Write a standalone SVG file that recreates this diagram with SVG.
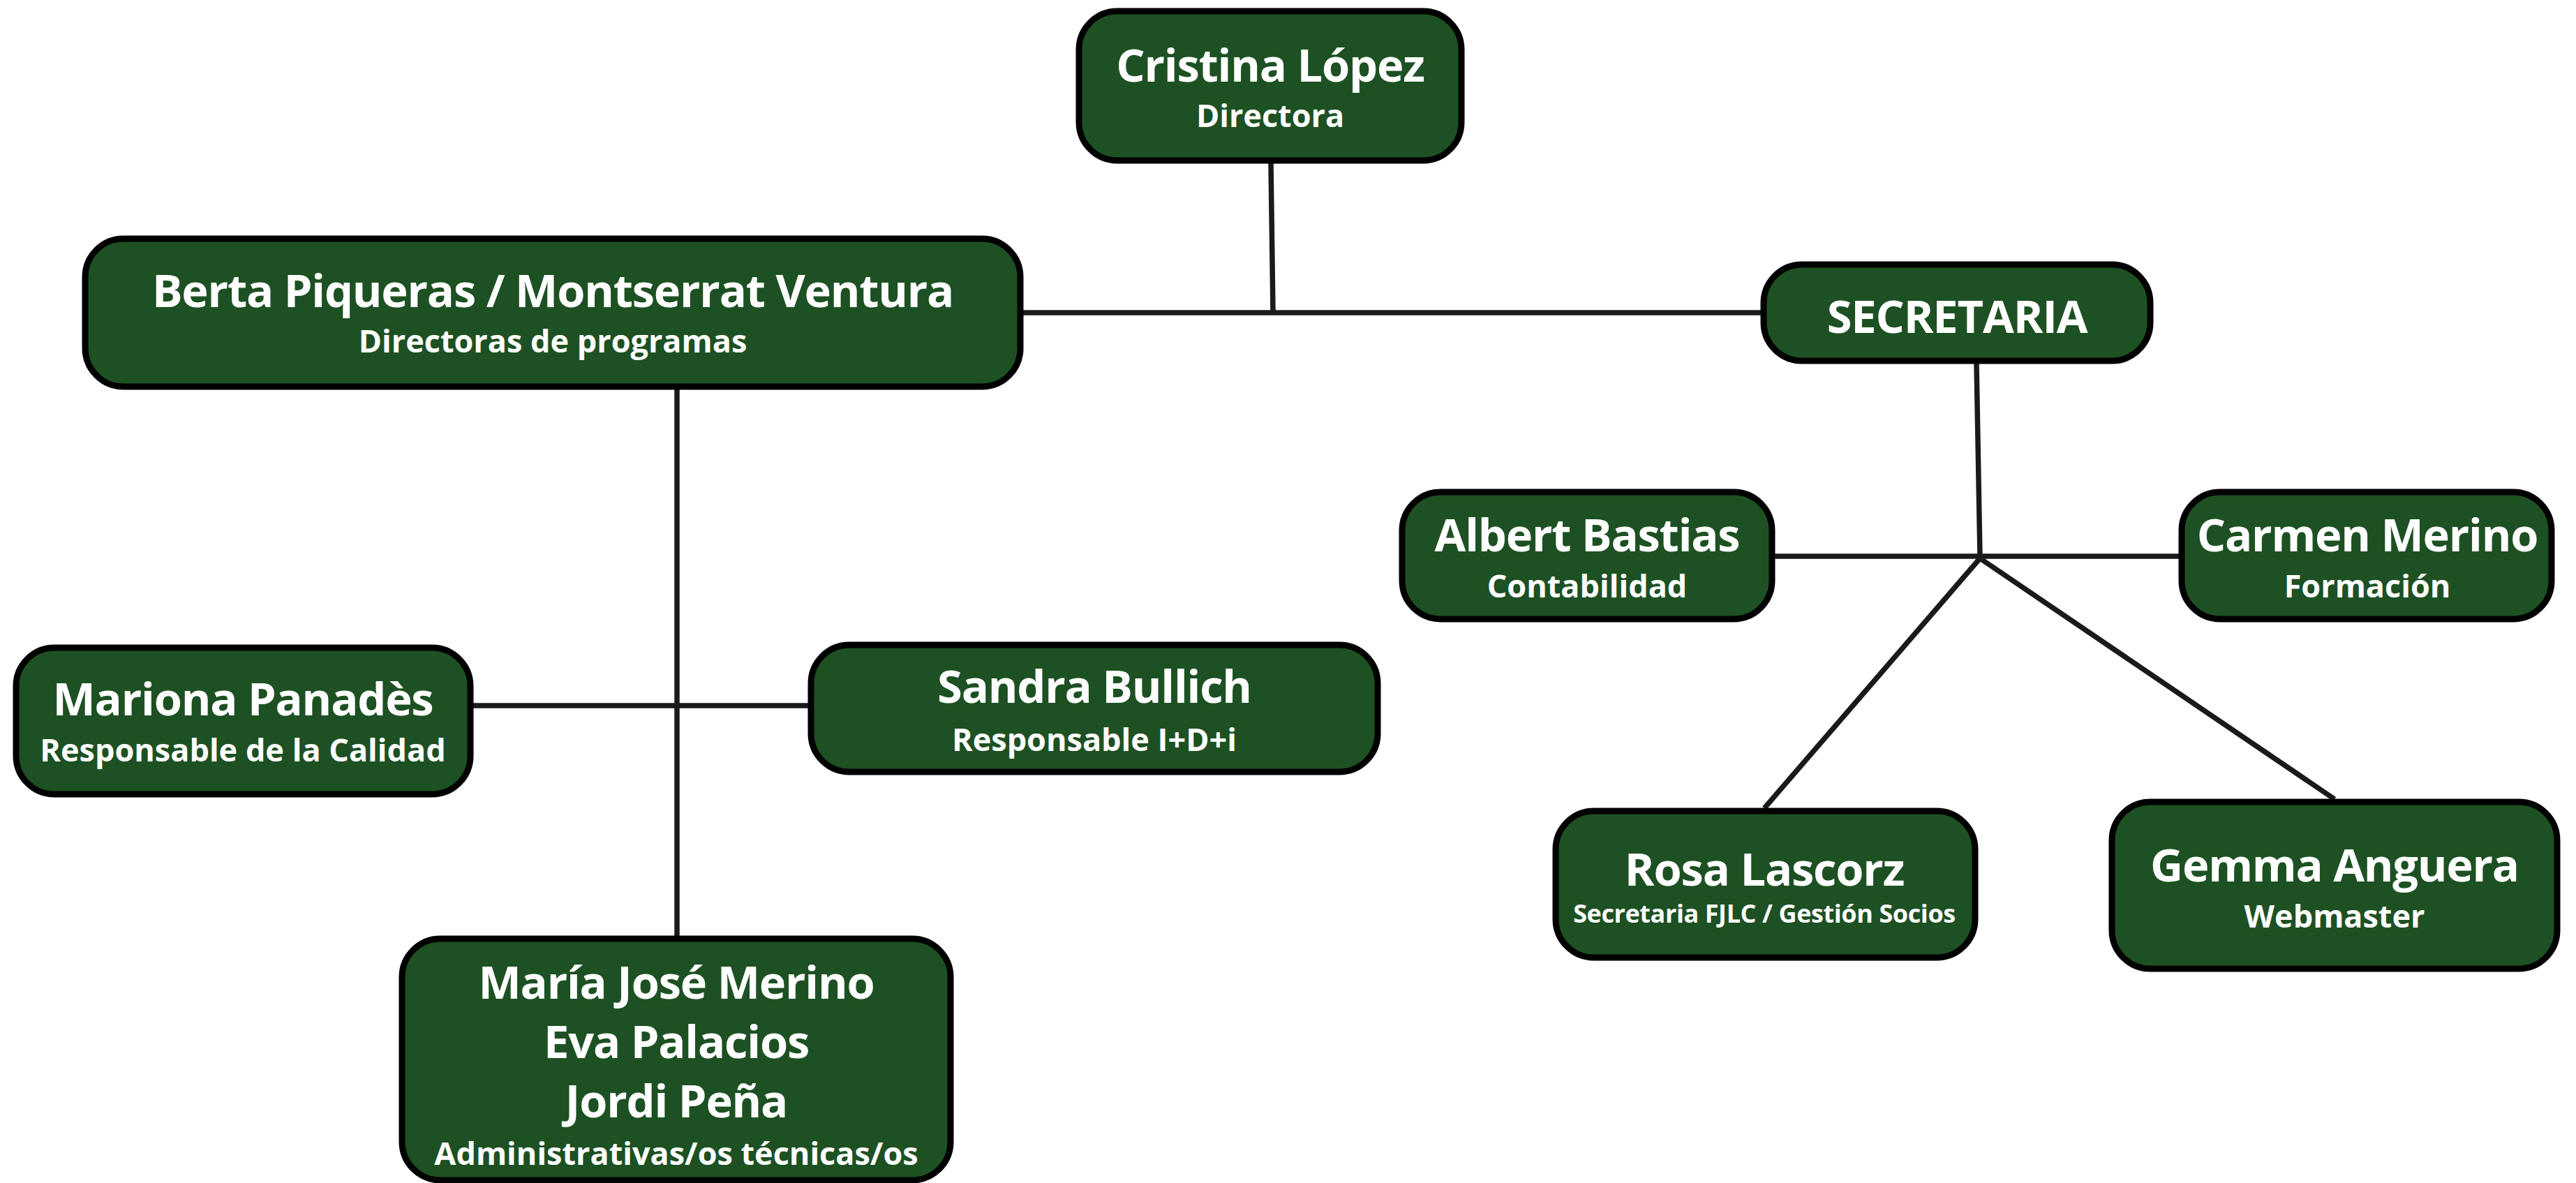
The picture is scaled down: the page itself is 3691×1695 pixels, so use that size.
<svg xmlns="http://www.w3.org/2000/svg" width="3691" height="1695" viewBox="0 0 3691 1695">
<style>
.box{fill:#1d5123;stroke:#000;stroke-width:9}
.t{font-family:"Open Sans","Liberation Sans",sans-serif;font-weight:700;fill:#fff;text-anchor:middle}
.n{font-size:65px;letter-spacing:-1.2px}
.s{font-size:45px}
.ss{font-size:36px;letter-spacing:-0.4px}
.c{stroke:#1a1a1a;stroke-width:7.5;fill:none}
</style>
<rect width="3691" height="1695" fill="#fff"/>
<g id="connectors">
<line class="c" x1="1821" y1="234" x2="1824" y2="448"/>
<line class="c" x1="1466" y1="448" x2="2523" y2="448"/>
<line class="c" x1="970" y1="558" x2="970" y2="1341"/>
<line class="c" x1="678" y1="1011" x2="1158" y2="1011"/>
<line class="c" x1="2832" y1="521" x2="2837" y2="797"/>
<line class="c" x1="2543" y1="797" x2="3122" y2="797"/>
<line class="c" x1="2837" y1="800" x2="2528" y2="1158"/>
<line class="c" x1="2837" y1="800" x2="3345" y2="1145"/>
</g>
<g id="cristina">
<rect class="box" x="1546" y="16" width="548" height="214" rx="55"/>
<text class="t n" x="1820" y="117">Cristina López</text>
<text class="t s" x="1820" y="182">Directora</text>
</g>
<g id="berta">
<rect class="box" x="122" y="342" width="1340" height="212" rx="55"/>
<text class="t n" x="792" y="440">Berta Piqueras / Montserrat Ventura</text>
<text class="t s" x="792" y="505">Directoras de programas</text>
</g>
<g id="secretaria">
<rect class="box" x="2527" y="379" width="554" height="138" rx="55"/>
<text class="t n" x="2804" y="477">SECRETARIA</text>
</g>
<g id="albert">
<rect class="box" x="2009" y="705" width="530" height="182" rx="55"/>
<text class="t n" x="2274" y="790">Albert Bastias</text>
<text class="t s" x="2274" y="856">Contabilidad</text>
</g>
<g id="carmen">
<rect class="box" x="3126" y="705" width="530" height="182" rx="55"/>
<text class="t n" x="3392" y="790">Carmen Merino</text>
<text class="t s" x="3392" y="856">Formación</text>
</g>
<g id="rosa">
<rect class="box" x="2229" y="1162" width="601" height="210" rx="55"/>
<text class="t n" x="2528" y="1269">Rosa Lascorz</text>
<text class="t ss" x="2528" y="1322">Secretaria FJLC / Gestión Socios</text>
</g>
<g id="gemma">
<rect class="box" x="3026" y="1149" width="638" height="239" rx="55"/>
<text class="t n" x="3345" y="1263">Gemma Anguera</text>
<text class="t s" x="3345" y="1329">Webmaster</text>
</g>
<g id="mariona">
<rect class="box" x="23" y="928" width="651" height="210" rx="55"/>
<text class="t n" x="348" y="1025">Mariona Panadès</text>
<text class="t s" x="348" y="1091">Responsable de la Calidad</text>
</g>
<g id="sandra">
<rect class="box" x="1162" y="924" width="812" height="182" rx="55"/>
<text class="t n" x="1568" y="1007">Sandra Bullich</text>
<text class="t s" x="1568" y="1076">Responsable I+D+i</text>
</g>
<g id="maria">
<rect class="box" x="576" y="1345" width="786" height="346" rx="55"/>
<text class="t n" x="969" y="1431">María José Merino</text>
<text class="t n" x="969" y="1516">Eva Palacios</text>
<text class="t n" x="969" y="1601">Jordi Peña</text>
<text class="t s" x="969" y="1669">Administrativas/os técnicas/os</text>
</g>
</svg>
